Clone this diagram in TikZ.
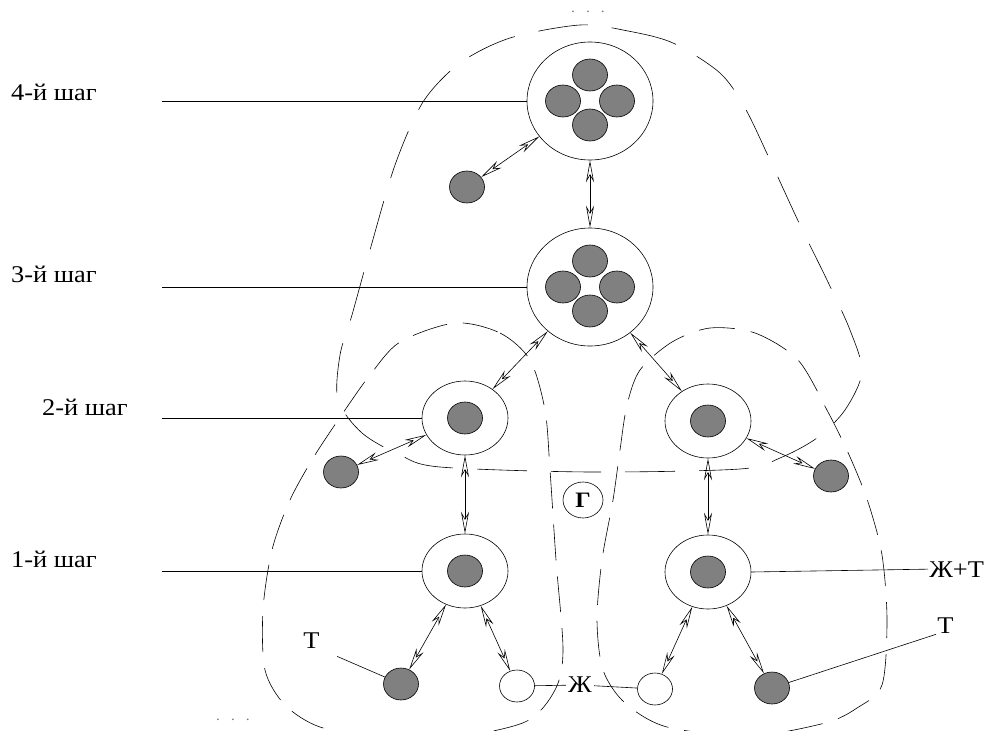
\documentclass[tikz,border=0pt]{standalone}
\usepackage{fontspec}
\setmainfont{Liberation Serif}[FakeStretch=1.1]
\usepackage{tikz}
\usetikzlibrary{arrows.meta,positioning,calc,shapes.geometric}
\definecolor{cellgray}{RGB}{128,128,128}
\definecolor{dotsgray}{RGB}{120,120,120}

\begin{document}
\begin{tikzpicture}[x=1pt, y=-1pt, line width=0.6pt,
  every node/.style={font=\fontsize{24}{28}\selectfont},
  cluster/.style={draw, ellipse, fill=white, minimum width=126pt, minimum height=118pt, inner sep=0pt},
  shell/.style={draw, ellipse, fill=white, minimum width=86pt, minimum height=74pt, inner sep=0pt},
  core/.style={draw, ellipse, fill=cellgray, minimum width=35pt, minimum height=32pt, inner sep=0pt},
  hollow/.style={draw, ellipse, fill=white, minimum width=35pt, minimum height=32pt, inner sep=0pt},
  link/.style={{Stealth[open,length=22pt,width=8pt,inset=7pt]}-{Stealth[open,length=22pt,width=8pt,inset=7pt]}, line width=0.6pt},
  hull/.style={dash pattern=on 36pt off 16pt, line width=0.6pt},
  lbl/.style={anchor=base east, inner sep=0pt},
  more/.style={font=\fontsize{14}{14}\selectfont, text=dotsgray, inner sep=0pt}]
  \useasboundingbox (0,0) rectangle (986,731);

  % envelopes
  \draw[hull, dash pattern=on 50pt off 24pt] plot[smooth cycle] coordinates {
    (580,25) (628,31) (673,43) (720,73) (745,108) (770,160) (800,225) (827,280)
    (850,330) (862,372) (845,410) (817,438) (780,458) (740,469) (590,472) (440,467)
    (400,455) (362,433) (338,400) (340,355) (352,315) (370,250) (395,165) (423,102)
    (460,63) (510,38)};
  \draw[hull] plot[smooth cycle] coordinates {
    (455,323) (500,333) (530,360) (545,410) (550,470) (556,560) (563,650) (555,690)
    (525,722) (450,738) (380,737) (320,727) (285,705) (265,670) (263,610) (272,550)
    (290,500) (315,455) (345,410) (370,375) (400,342)};
  \draw[hull] plot[smooth cycle] coordinates {
    (710,328) (755,333) (798,360) (828,412) (850,457) (868,502) (882,555) (887,620)
    (882,685) (857,708) (825,723) (750,736) (667,727) (625,703) (603,670) (597,620)
    (602,560) (613,500) (620,450) (627,405) (640,370) (672,342)};

  % steps
  \node[cluster] (s4) at (590,101) {};
  \node[core] (s4n) at ($(s4)+(0,-26)$) {};
  \node[core] (s4w) at ($(s4)+(-27,0)$) {};
  \node[core] (s4e) at ($(s4)+(27,0)$) {};
  \node[core] (s4s) at ($(s4)+(0,24)$) {};
  \node[core] (d4) at (467,187) {};

  \node[cluster] (s3) at (590,287) {};
  \node[core] (s3n) at ($(s3)+(0,-26)$) {};
  \node[core] (s3w) at ($(s3)+(-27,0)$) {};
  \node[core] (s3e) at ($(s3)+(27,0)$) {};
  \node[core] (s3s) at ($(s3)+(0,24)$) {};

  \node[shell] (s2l) at (465,418) {};
  \node[core] at (s2l) {};
  \node[shell] (s2r) at (708,421) {};
  \node[core] at (s2r) {};
  \node[core] (d2l) at (341,472) {};
  \node[core] (d2r) at (831,476) {};

  \node[shell] (s1l) at (465,571) {};
  \node[core] at (s1l) {};
  \node[shell] (s1r) at (708,572) {};
  \node[core] at (s1r) {};
  \node[core] (d1l) at (401,684) {};
  \node[hollow] (w1l) at (517,686) {};
  \node[hollow] (w1r) at (655,689) {};
  \node[core] (d1r) at (772,688) {};

  \node[draw, ellipse, minimum width=40pt, minimum height=36pt, inner sep=0pt,
    font=\fontsize{22}{24}\selectfont\bfseries] (gam) at (583,500) {Г};

  % step labels
  \node[lbl] (t4) at (97,100) {4-й шаг};
  \node[lbl] (t3) at (97,282) {3-й шаг};
  \node[lbl] (t2) at (128,415) {2-й шаг};
  \node[lbl] (t1) at (97,567) {1-й шаг};
  \coordinate (m4) at (162,101);
  \coordinate (m3) at (162,287);
  \coordinate (m2) at (162,418);
  \coordinate (m1) at (162,571);
  \draw (m4) -- (s4);
  \draw (m3) -- (s3);
  \draw (m2) -- (s2l);
  \draw (m1) -- (s1l);

  \node[anchor=base west, inner sep=1pt] (zht) at (928,577) {Ж+Т};
  \node[anchor=base west, inner sep=1pt] (tr) at (936,633) {Т};
  \node[anchor=base west, inner sep=1pt] (tl) at (302,648) {Т};
  \node[inner sep=2pt] (zh) at (580,685) {Ж};
  \draw (s1r.east) -- (zht.west);
  \draw (d1r) -- (tr.south west);
  \draw[shorten <=18pt] (tl.south east) -- (d1l);
  \draw (w1l) -- (zh);
  \draw (zh) -- (w1r);

  \node[more] (topdots) at (588,12) {.\hspace{11pt}.\hspace{11pt}.};
  \node[more] (botdots) at (233,720) {.\hspace{11pt}.\hspace{11pt}.};

  % links
  \draw[link] (s4) -- (d4);
  \draw[link] (s4) -- (s3);
  \draw[link] (s3) -- (s2l);
  \draw[link] (s3) -- (s2r);
  \draw[link] (s2l) -- (d2l);
  \draw[link] (s2r) -- (d2r);
  \draw[link] (s2l) -- (s1l);
  \draw[link] (s2r) -- (s1r);
  \draw[link] (s1l) -- (d1l);
  \draw[link] (s1l) -- (w1l);
  \draw[link] (s1r) -- (w1r);
  \draw[link] (s1r) -- (d1r);
\end{tikzpicture}
\end{document}
